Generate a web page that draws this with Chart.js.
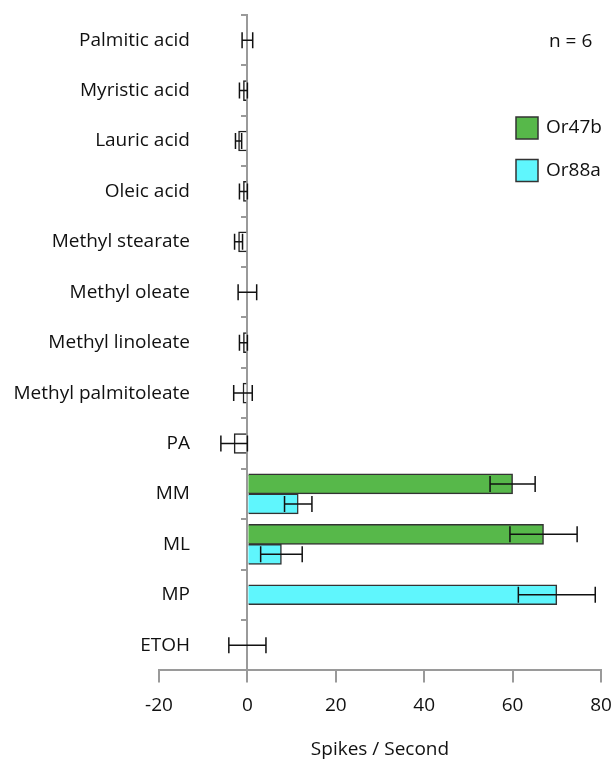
<!DOCTYPE html>
<html>
<head>
<meta charset="utf-8">
<script src="https://cdn.jsdelivr.net/npm/chart.js@4/dist/chart.umd.min.js"></script>
<style>
  html, body { margin: 0; padding: 0; background: #fff; }
</style>
</head>
<body>
<canvas id="spikes" width="614" height="763"></canvas>
<script>
'use strict';

var odorants = ['Palmitic acid', 'Myristic acid', 'Lauric acid', 'Oleic acid', 'Methyl stearate',
  'Methyl oleate', 'Methyl linoleate', 'Methyl palmitoleate', 'PA', 'MM', 'ML', 'MP', 'ETOH'];

// mean spikes / second, null where the receptor was not plotted
var or47b    = [null, null, null, null, null, null, null, null, null, 60, 67, null, null];
var or47bErr = [null, null, null, null, null, null, null, null, null, 5.1, 7.6, null, null];
var or88a    = [null, null, null, null, null, null, null, null, null, 11.5, 7.7, 70, null];
var or88aErr = [null, null, null, null, null, null, null, null, null, 3.1, 4.7, 8.7, null];
var control    = [0, -0.9, -2.0, -0.9, -2.0, 0, -0.9, -1.0, -3.0, null, null, null, 0];
var controlErr = [1.2, 0.9, 0.7, 0.9, 0.9, 2.1, 0.9, 2.1, 3.0, null, null, null, 4.2];

var xTicks = [-20, 0, 20, 40, 60, 80];
var sampleNote = 'n = 6';

var FONT = '"Open Sans", "DejaVu Sans", sans-serif';
var FONT_SIZE = 19;
var AXIS_GREY = '#9a9a9a';

// horizontal error bars with end caps, centred on each bar
var errorBars = {
  id: 'errorBars',
  afterDatasetsDraw: function(chart) {
    var ctx = chart.ctx;
    var xs = chart.scales.x;
    ctx.save();
    ctx.strokeStyle = '#111';
    ctx.lineWidth = 1.5;
    chart.data.datasets.forEach(function(ds, d) {
      var meta = chart.getDatasetMeta(d);
      ds.data.forEach(function(v, i) {
        var e = ds.errors[i];
        if (v === null || e === null) return;
        var bar = meta.data[i];
        var lo = xs.getPixelForValue(v - e);
        var hi = xs.getPixelForValue(v + e);
        var y = bar.y;
        ctx.beginPath();
        ctx.moveTo(lo, y); ctx.lineTo(hi, y);
        ctx.moveTo(lo, y - 8); ctx.lineTo(lo, y + 8);
        ctx.moveTo(hi, y - 8); ctx.lineTo(hi, y + 8);
        ctx.stroke();
      });
    });
    ctx.restore();
  }
};

// receptor key and sample size in the upper right corner
var keyBox = {
  id: 'keyBox',
  afterDraw: function(chart) {
    var ctx = chart.ctx;
    ctx.save();
    ctx.font = FONT_SIZE + 'px ' + FONT;
    ctx.fillStyle = '#111';
    ctx.textBaseline = 'middle';
    ctx.textAlign = 'left';
    ctx.fillText(sampleNote, 549, 42);
    [0, 1].forEach(function(d, k) {
      var ds = chart.data.datasets[d];
      var top = 117 + k * 42.5;
      ctx.fillStyle = ds.backgroundColor;
      ctx.fillRect(516, top, 22, 22);
      ctx.strokeStyle = '#333';
      ctx.lineWidth = 1.5;
      ctx.strokeRect(516, top, 22, 22);
      ctx.fillStyle = '#111';
      ctx.fillText(ds.label, 546, top + 11);
    });
    ctx.restore();
  }
};

var ctx = document.getElementById('spikes');
var chart = new Chart(ctx, {
  type: 'bar',
  data: {
    labels: odorants,
    datasets: [
      {
        label: 'Or47b',
        data: or47b,
        errors: or47bErr,
        backgroundColor: '#57b84a',
        borderColor: '#333',
        borderWidth: 1.5,
        barThickness: 20,
        skipNull: true
      },
      {
        label: 'Or88a',
        data: or88a,
        errors: or88aErr,
        backgroundColor: '#5ff6fd',
        borderColor: '#333',
        borderWidth: 1.5,
        barThickness: 20,
        skipNull: true
      },
      {
        label: 'Control',
        data: control,
        errors: controlErr,
        backgroundColor: '#ffffff',
        borderColor: '#222',
        borderWidth: 1.5,
        barThickness: 20,
        skipNull: true
      }
    ]
  },
  options: {
    indexAxis: 'y',
    responsive: false,
    animation: false,
    layout: { padding: { left: 159, right: 13, top: 15, bottom: 2 } },
    plugins: {
      legend: { display: false },
      tooltip: { enabled: false }
    },
    scales: {
      x: {
        type: 'linear',
        min: -20,
        max: 80,
        afterBuildTicks: function(axis) {
          axis.ticks = xTicks.map(function(v) { return { value: v }; });
        },
        // the "80" label may hang past the plot edge, the layout padding covers it
        afterFit: function(axis) {
          axis.paddingRight = 0;
        },
        border: { color: AXIS_GREY, width: 2 },
        grid: { drawOnChartArea: false, tickLength: 12, color: AXIS_GREY, lineWidth: 2 },
        ticks: { color: '#111', padding: 11.5, font: { family: FONT, size: FONT_SIZE } },
        title: {
          display: true,
          text: 'Spikes / Second',
          color: '#111',
          font: { family: FONT, size: FONT_SIZE },
          padding: { top: 10, bottom: 0 }
        }
      },
      // odorant names, right-aligned a little left of the zero line
      y: {
        type: 'category',
        position: { x: -13 },
        offset: true,
        border: { display: false },
        grid: { display: false },
        ticks: { color: '#111', font: { family: FONT, size: FONT_SIZE } }
      },
      // zero line with short marks between odorants
      y2: {
        type: 'category',
        position: { x: 0 },
        offset: true,
        border: { color: AXIS_GREY, width: 2 },
        grid: { offset: true, drawOnChartArea: false, tickLength: 5, color: AXIS_GREY, lineWidth: 2 },
        ticks: { display: false }
      }
    }
  },
  plugins: [errorBars, keyBox]
});
</script>
</body>
</html>
